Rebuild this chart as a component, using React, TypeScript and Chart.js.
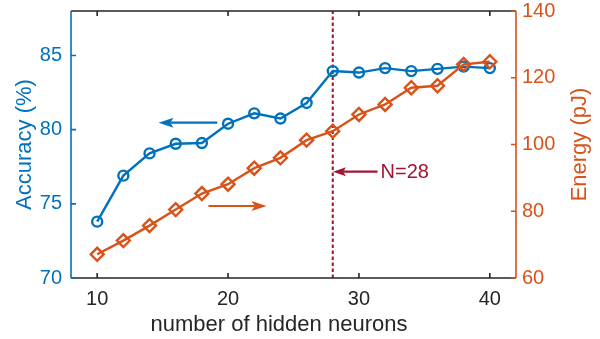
import { useEffect, useRef } from 'react';
import { Chart, registerables } from 'chart.js';

Chart.register(...registerables);

// ---- data ----
const neurons = [10, 12, 14, 16, 18, 20, 22, 24, 26, 28, 30, 32, 34, 36, 38, 40];
const accuracy = [73.8, 76.9, 78.4, 79.05, 79.1, 80.4, 81.1, 80.75, 81.8, 83.95, 83.85, 84.15, 83.95, 84.1, 84.25, 84.15];
const energy = [67.1, 71.2, 75.7, 80.5, 85.3, 88.1, 92.9, 96.0, 101.3, 104.0, 109.0, 112.0, 117.0, 117.6, 124.0, 124.8];

const xTicks = [10, 20, 30, 40];
const accTicks = [70, 75, 80, 85];
const energyTicks = [60, 80, 100, 120, 140];

const xLabel = 'number of hidden neurons';
const accLabel = 'Accuracy (%)';
const energyLabel = 'Energy (pJ)';
const markerN = 28;
const markerText = 'N=28';

// annotation arrows: [x from, x to, y] in data units
const accArrow = [19.18, 14.69, 80.47];
const energyArrow = [18.5, 22.94, 81.57];
const nArrow = [31.42, 28.02, 91.85];

const BLUE = '#0072BD';
const ORANGE = '#D95319';
const RED = '#A2142F';
const AXIS = '#262626';
const FONT = "'Liberation Sans', Arial, Helvetica, sans-serif";

function drawArrow(ctx: CanvasRenderingContext2D, x1: number, y1: number, x2: number, y2: number, color: string, len: number, w: number) {
  const ang = Math.atan2(y2 - y1, x2 - x1);
  const c = Math.cos(ang), s = Math.sin(ang);
  const bx = x2 - len * c, by = y2 - len * s;
  const nx = x2 - len * 0.78 * c, ny = y2 - len * 0.78 * s;
  ctx.strokeStyle = color;
  ctx.fillStyle = color;
  ctx.lineWidth = 2.2;
  ctx.beginPath();
  ctx.moveTo(x1, y1);
  ctx.lineTo(nx, ny);
  ctx.stroke();
  ctx.beginPath();
  ctx.moveTo(x2, y2);
  ctx.lineTo(bx + (w / 2) * s, by - (w / 2) * c);
  ctx.lineTo(nx, ny);
  ctx.lineTo(bx - (w / 2) * s, by + (w / 2) * c);
  ctx.closePath();
  ctx.fill();
}

const matlabAxes = {
  id: 'matlabAxes',
  afterDraw(chart: any) {
    const { ctx, chartArea: a, scales } = chart;
    const x = scales.x, yL = scales.yL, yR = scales.yR;
    const tl = 5;
    ctx.save();
    ctx.lineWidth = 1.6;
    // top & bottom
    ctx.strokeStyle = AXIS;
    ctx.beginPath();
    ctx.moveTo(a.left, a.top);
    ctx.lineTo(a.right, a.top);
    ctx.moveTo(a.left, a.bottom);
    ctx.lineTo(a.right, a.bottom);
    for (const v of xTicks) {
      const px = x.getPixelForValue(v);
      ctx.moveTo(px, a.top);
      ctx.lineTo(px, a.top + tl);
      ctx.moveTo(px, a.bottom);
      ctx.lineTo(px, a.bottom - tl);
    }
    ctx.stroke();
    // left
    ctx.strokeStyle = BLUE;
    ctx.beginPath();
    ctx.moveTo(a.left, a.top);
    ctx.lineTo(a.left, a.bottom);
    for (const v of accTicks) {
      const py = yL.getPixelForValue(v);
      ctx.moveTo(a.left, py);
      ctx.lineTo(a.left + tl, py);
    }
    ctx.stroke();
    // right
    ctx.strokeStyle = ORANGE;
    ctx.beginPath();
    ctx.moveTo(a.right, a.top);
    ctx.lineTo(a.right, a.bottom);
    for (const v of energyTicks) {
      const py = yR.getPixelForValue(v);
      ctx.moveTo(a.right, py);
      ctx.lineTo(a.right - tl, py);
    }
    ctx.stroke();

    // arrows
    drawArrow(ctx, x.getPixelForValue(accArrow[0]), yL.getPixelForValue(accArrow[2]), x.getPixelForValue(accArrow[1]), yL.getPixelForValue(accArrow[2]), BLUE, 15, 10);
    drawArrow(ctx, x.getPixelForValue(energyArrow[0]), yR.getPixelForValue(energyArrow[2]), x.getPixelForValue(energyArrow[1]), yR.getPixelForValue(energyArrow[2]), ORANGE, 15, 10);
    drawArrow(ctx, x.getPixelForValue(nArrow[0]), yR.getPixelForValue(nArrow[2]), x.getPixelForValue(nArrow[1]), yR.getPixelForValue(nArrow[2]), RED, 13, 9);

    ctx.font = `20px ${FONT}`;
    ctx.fillStyle = RED;
    ctx.textAlign = 'left';
    ctx.textBaseline = 'middle';
    ctx.fillText(markerText, x.getPixelForValue(nArrow[0]) + 3, yR.getPixelForValue(nArrow[2]) + 1);

    // axis titles
    const cy = (a.top + a.bottom) / 2;
    ctx.font = `22px ${FONT}`;
    ctx.textAlign = 'center';
    ctx.textBaseline = 'middle';
    ctx.save();
    ctx.translate(a.left - 46, cy);
    ctx.rotate(-Math.PI / 2);
    ctx.fillStyle = BLUE;
    ctx.fillText(accLabel, 0, 0);
    ctx.restore();
    ctx.save();
    ctx.translate(a.right + 64, cy);
    ctx.rotate(-Math.PI / 2);
    ctx.fillStyle = ORANGE;
    ctx.fillText(energyLabel, 0, 0);
    ctx.restore();
    ctx.fillStyle = AXIS;
    ctx.textBaseline = 'alphabetic';
    ctx.fillText(xLabel, (a.left + a.right) / 2 - 14.5, a.bottom + 53);
    ctx.restore();
  },
};

export default function App() {
  const ref = useRef<HTMLCanvasElement>(null);
  useEffect(() => {
    document.body.style.margin = '0';
    const canvas = ref.current;
    if (!canvas) return;
    const tickFont = { family: FONT, size: 20 };
    const chart = new Chart(canvas, {
      type: 'line',
      data: {
        datasets: [
          {
            label: 'Energy',
            data: neurons.map((n, i) => ({ x: n, y: energy[i] })),
            yAxisID: 'yR',
            borderColor: ORANGE,
            backgroundColor: 'rgba(0,0,0,0)',
            borderWidth: 2.4,
            pointStyle: 'rectRot',
            pointRadius: 6.5,
            pointBorderWidth: 2.4,
            pointBackgroundColor: 'rgba(0,0,0,0)',
          },
          {
            label: 'Accuracy',
            data: neurons.map((n, i) => ({ x: n, y: accuracy[i] })),
            yAxisID: 'yL',
            borderColor: BLUE,
            backgroundColor: 'rgba(0,0,0,0)',
            borderWidth: 2.4,
            pointStyle: 'circle',
            pointRadius: 5,
            pointBorderWidth: 2.4,
            pointBackgroundColor: 'rgba(0,0,0,0)',
          },
          {
            label: markerText,
            data: [{ x: markerN, y: 70 }, { x: markerN, y: 88 }],
            yAxisID: 'yL',
            borderColor: RED,
            borderWidth: 2,
            borderDash: [3.5, 2.5],
            pointRadius: 0,
          },
        ],
      },
      options: {
        animation: false,
        responsive: true,
        maintainAspectRatio: false,
        layout: { padding: { top: 11, left: 0, right: 0, bottom: 0 } },
        plugins: { legend: { display: false }, tooltip: { enabled: false } },
        scales: {
          x: {
            type: 'linear',
            min: 8,
            max: 42,
            grid: { display: false, drawTicks: false },
            border: { display: false },
            afterBuildTicks: (s: any) => { s.ticks = xTicks.map((v) => ({ value: v })); },
            afterFit: (s: any) => { s.height = 61; s.paddingLeft = 0; s.paddingRight = 0; },
            ticks: { color: AXIS, font: tickFont, padding: 9, maxRotation: 0, autoSkip: false },
          },
          yL: {
            type: 'linear',
            position: 'left',
            min: 70,
            max: 88,
            grid: { display: false, drawTicks: false },
            border: { display: false },
            afterBuildTicks: (s: any) => { s.ticks = accTicks.map((v) => ({ value: v })); },
            afterFit: (s: any) => { s.width = 71; s.paddingTop = 0; s.paddingBottom = 0; },
            ticks: { color: BLUE, font: tickFont, padding: 9 },
          },
          yR: {
            type: 'linear',
            position: 'right',
            min: 60,
            max: 140,
            grid: { display: false, drawTicks: false },
            border: { display: false },
            afterBuildTicks: (s: any) => { s.ticks = energyTicks.map((v) => ({ value: v })); },
            afterFit: (s: any) => { s.width = 84; s.paddingTop = 0; s.paddingBottom = 0; },
            ticks: { color: ORANGE, font: tickFont, padding: 6 },
          },
        },
      },
      plugins: [matlabAxes],
    } as any);
    return () => chart.destroy();
  }, []);
  return (
    <div style={{ position: 'fixed', left: 0, top: 0, width: 600, height: 339, background: '#fff' }}>
      <canvas ref={ref} />
    </div>
  );
}
